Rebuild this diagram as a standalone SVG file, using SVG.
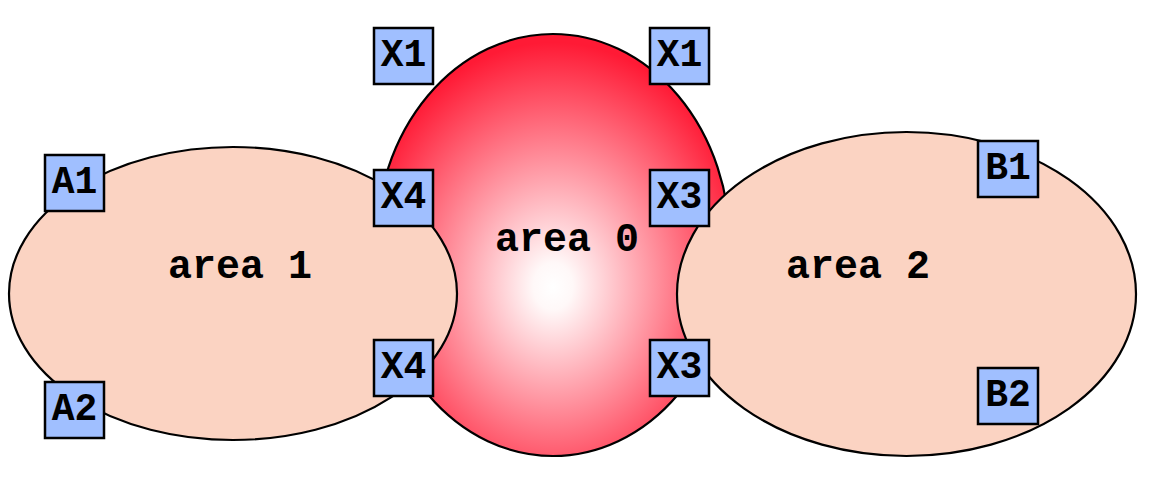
<svg xmlns="http://www.w3.org/2000/svg" width="1170" height="502" viewBox="0 0 1170 502">
<defs>
<radialGradient id="g0" cx="0.5" cy="0.58" r="0.56" fx="0.5" fy="0.6">
<stop offset="0" stop-color="#ffffff"/>
<stop offset="0.1" stop-color="#fff8f8"/>
<stop offset="1" stop-color="#ff1a35"/>
</radialGradient>
</defs>
<style>
.area{fill:#fbd3c2;stroke:#000;stroke-width:2.2}
.box{fill:#a0bfff;stroke:#000;stroke-width:2.5}
.lbl{font-family:"Liberation Mono",monospace;font-weight:bold;fill:#000;text-anchor:middle}
.al{font-size:40px}
.bl{font-size:38px}
</style>
<g id="area0">
<ellipse cx="553" cy="245" rx="177" ry="211" fill="url(#g0)" stroke="#000" stroke-width="2.2"/>
<text class="lbl al" x="567" y="251">area 0</text>
</g>
<g id="area1">
<ellipse class="area" cx="233" cy="293.5" rx="224" ry="146.5"/>
<text class="lbl al" x="240" y="278">area 1</text>
</g>
<g id="area2">
<ellipse class="area" cx="906.5" cy="294" rx="229.5" ry="162"/>
<text class="lbl al" x="858" y="278">area 2</text>
</g>
<g id="connectors"></g>
<g id="x1a"><rect class="box" x="374" y="28" width="59" height="56"/><text class="lbl bl" x="403.5" y="66">X1</text></g>
<g id="x1b"><rect class="box" x="650" y="28" width="59" height="56"/><text class="lbl bl" x="679.5" y="66">X1</text></g>
<g id="x4a"><rect class="box" x="374" y="170" width="59" height="56"/><text class="lbl bl" x="403.5" y="208">X4</text></g>
<g id="x3a"><rect class="box" x="650" y="170" width="59" height="56"/><text class="lbl bl" x="679.5" y="208">X3</text></g>
<g id="x4b"><rect class="box" x="374" y="340" width="59" height="56"/><text class="lbl bl" x="403.5" y="378">X4</text></g>
<g id="x3b"><rect class="box" x="650" y="340" width="59" height="56"/><text class="lbl bl" x="679.5" y="378">X3</text></g>
<g id="a1"><rect class="box" x="45" y="155" width="59" height="56"/><text class="lbl bl" x="74.5" y="193">A1</text></g>
<g id="a2"><rect class="box" x="45" y="382" width="59" height="56"/><text class="lbl bl" x="74.5" y="420">A2</text></g>
<g id="b1"><rect class="box" x="978" y="141" width="60" height="56"/><text class="lbl bl" x="1008" y="179">B1</text></g>
<g id="b2"><rect class="box" x="978" y="368" width="60" height="56"/><text class="lbl bl" x="1008" y="406">B2</text></g>
</svg>
